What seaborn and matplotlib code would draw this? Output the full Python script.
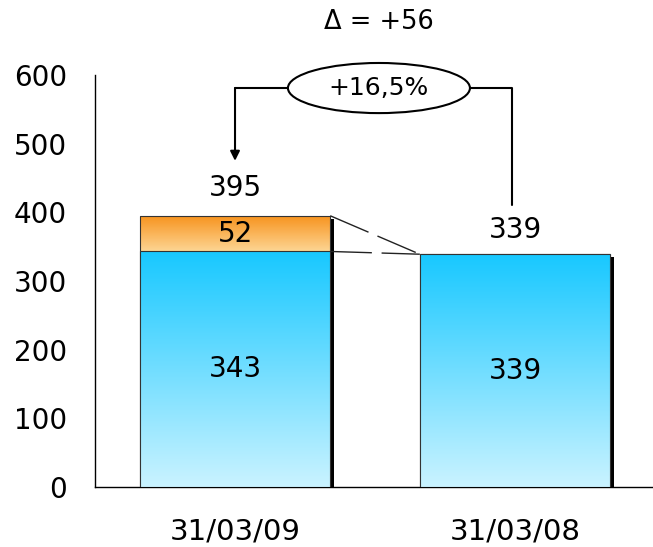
import numpy as np
import pandas as pd
import matplotlib.pyplot as plt
import seaborn as sns
import matplotlib.transforms as mtransforms
from matplotlib.colors import LinearSegmentedColormap
from matplotlib.patches import Ellipse, Rectangle

# --- dados ---
datas = ['31/03/09', '31/03/08']
base = [343, 339]
acrescimo = [52, 0]
totais = [395, 339]
texto_delta = 'Δ = +56'
texto_var = '+16,5%'

sns.set_theme(style='white')
plt.rcParams['font.family'] = ['DejaVu Sans']
plt.rcParams['text.color'] = 'black'
plt.rcParams['xtick.labelcolor'] = 'black'
plt.rcParams['ytick.labelcolor'] = 'black'

fig = plt.figure(figsize=(6.53, 5.47), dpi=100)
ax = fig.add_axes([0.1455, 0.1097, 0.8576, 0.7532])

df = pd.DataFrame({'data': datas, 'total': totais, 'base': base})
largura = 0.68

# barras: total (laranja) por baixo, base (azul) por cima
sns.barplot(data=df, x='data', y='total', color='#F7941D', width=largura,
            saturation=1, edgecolor='#333333', linewidth=0.8, ax=ax, zorder=3)
sns.barplot(data=df, x='data', y='base', color='#1ECBFF', width=largura,
            saturation=1, edgecolor='#333333', linewidth=0.8, ax=ax, zorder=3)

cm_laranja = LinearSegmentedColormap.from_list('lar', ['#F7921C', '#FDD593'])
cm_azul = LinearSegmentedColormap.from_list('azu', ['#18C8FF', '#CAF3FF'])

n = len(datas)
barras_total = ax.patches[:n]
barras_base = ax.patches[n:2 * n]

# sombra preta deslocada
desloc = mtransforms.ScaledTranslation(0.04, -0.03, fig.dpi_scale_trans)
for p in barras_total:
    sombra = Rectangle((p.get_x(), 0), p.get_width(), p.get_height(),
                       facecolor='black', edgecolor='none',
                       transform=ax.transData + desloc, zorder=1)
    ax.add_patch(sombra)

# preenchimento em degrade (escuro em cima, claro em baixo)
grad = np.linspace(0, 1, 256).reshape(-1, 1)
for i, p in enumerate(barras_total):
    x0, x1 = p.get_x(), p.get_x() + p.get_width()
    im = ax.imshow(grad, cmap=cm_laranja, origin='upper', aspect='auto',
                   extent=[x0, x1, base[i], totais[i]], zorder=2)
    im.set_clip_path(p)
    p.set_facecolor('none')
for i, p in enumerate(barras_base):
    x0, x1 = p.get_x(), p.get_x() + p.get_width()
    im = ax.imshow(grad, cmap=cm_azul, origin='upper', aspect='auto',
                   extent=[x0, x1, 0, base[i]], zorder=3.5)
    im.set_clip_path(p)
    p.set_facecolor('none')
    p.set_zorder(4)

# linhas tracejadas ligando as barras
dir1 = barras_total[0].get_x() + barras_total[0].get_width()
esq2 = barras_total[1].get_x()
for y in [totais[0], base[0]]:
    ax.plot([dir1, esq2], [y, totais[1]], color='#222222', lw=1,
            dashes=(30, 7), zorder=5)

# rotulos
fs = 20
ax.text(0, base[0] / 2, str(base[0]), ha='center', va='center', fontsize=fs, zorder=6)
ax.text(0, base[0] + acrescimo[0] / 2, str(acrescimo[0]), ha='center', va='center', fontsize=fs, zorder=6)
ax.text(0, totais[0] + 40, str(totais[0]), ha='center', va='center', fontsize=fs, zorder=6)
ax.text(1, base[1] / 2, str(base[1]), ha='center', va='center', fontsize=fs, zorder=6)
ax.text(1, totais[1] + 35, str(totais[1]), ha='center', va='center', fontsize=fs, zorder=6)

# seta e elipse com variacao
y_el = 581
ell = Ellipse((0.514, y_el), width=0.65, height=73, facecolor='white',
              edgecolor='black', lw=1.5, clip_on=False, zorder=7)
ax.add_patch(ell)
ax.text(0.514, y_el, texto_var, ha='center', va='center', fontsize=18, zorder=8)
ax.plot([0.514 - 0.325, 0], [y_el, y_el], color='black', lw=1.5, clip_on=False, zorder=6)
ax.annotate('', xy=(0, totais[0] + 80), xytext=(0, y_el),
            arrowprops=dict(arrowstyle='-|>', color='black', lw=1.5,
                            shrinkA=0, shrinkB=0, mutation_scale=14),
            annotation_clip=False)
ax.plot([0.514 + 0.325, 0.99, 0.99], [y_el, y_el, totais[1] + 72], color='black',
        lw=1.5, clip_on=False, zorder=6)
ax.text(0.514, 677, texto_delta, ha='center', va='center', fontsize=18.5, clip_on=False)

# eixos
ax.set_xlim(-0.5, 1.5)
ax.set_ylim(0, 600)
ax.set_yticks(range(0, 601, 100))
ax.set_xlabel('')
ax.set_ylabel('')
sns.despine(ax=ax)
for s in ['left', 'bottom']:
    ax.spines[s].set_color('black')
    ax.spines[s].set_linewidth(1)
ax.tick_params(axis='y', which='major', direction='out', length=9, width=1,
               color='#444444', pad=11, labelsize=fs)
ax.set_xticks([-0.5, 0.5, 1.5], minor=True)
ax.tick_params(axis='x', which='minor', direction='out', length=8, width=1, color='#444444')
ax.tick_params(axis='x', which='major', length=0, pad=22, labelsize=21)

fig.savefig('out.png', dpi=100)
